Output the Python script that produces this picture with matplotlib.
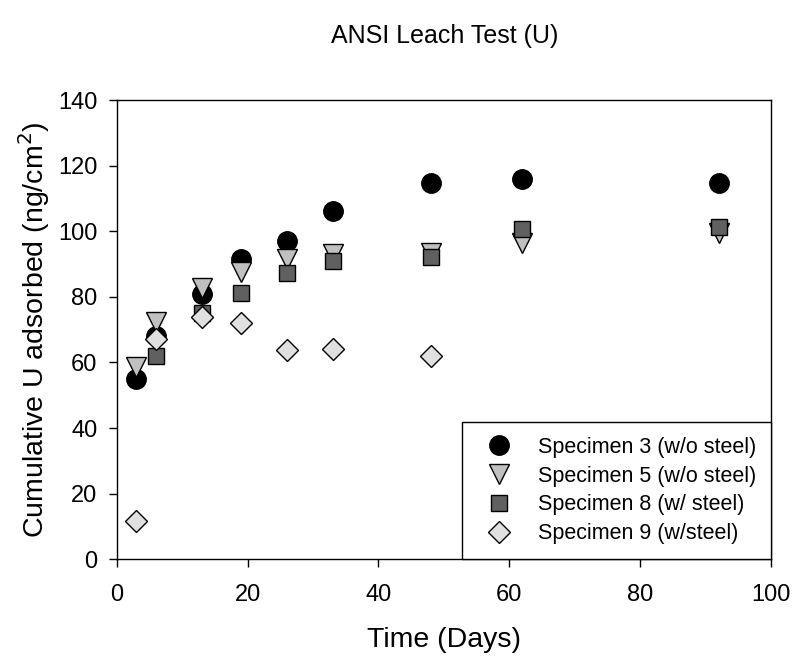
import matplotlib
matplotlib.use("Agg")
import matplotlib.pyplot as plt

plt.rcParams["font.family"] = ["Liberation Sans", "DejaVu Sans"]

# specimen 3 (w/o steel)
days_s3 = [3, 6, 13, 19, 26, 33, 48, 62, 92]
u_s3 = [55, 68, 81, 91.5, 97, 106.2, 114.8, 116, 114.8]
# specimen 5 (w/o steel)
days_s5 = [3, 6, 13, 19, 26, 33, 48, 62, 92]
u_s5 = [58.5, 72.3, 82.6, 87.5, 91.4, 93.2, 93.5, 96.5, 99.5]
# specimen 8 (w/ steel)
days_s8 = [6, 13, 19, 26, 33, 48, 62, 92]
u_s8 = [62, 75, 81.3, 87.3, 90.9, 92.2, 100.6, 101.3]
# specimen 9 (w/steel)
days_s9 = [3, 6, 13, 19, 26, 33, 48]
u_s9 = [11.7, 67, 73.9, 71.9, 63.7, 64.2, 61.9]

fig = plt.figure(figsize=(7.94, 6.58), dpi=100, facecolor="white")
ax = fig.add_axes([0.147, 0.150, 0.824, 0.698])

ax.plot(days_s3, u_s3, "o", ms=14, mfc="black", mec="black", mew=1,
        label="Specimen 3 (w/o steel)")
ax.plot(days_s5, u_s5, "v", ms=14, mfc="#c0c0c0", mec="black", mew=1,
        label="Specimen 5 (w/o steel)")
ax.plot(days_s8, u_s8, "s", ms=12, mfc="#606060", mec="black", mew=1,
        label="Specimen 8 (w/ steel)")
ax.plot(days_s9, u_s9, "D", ms=11, mfc="#e0e0e0", mec="black", mew=1,
        label="Specimen 9 (w/steel)")

ax.set_xlim(0, 100)
ax.set_ylim(0, 140)
ax.set_xticks(range(0, 101, 20))
ax.set_yticks(range(0, 141, 20))
ax.tick_params(direction="out", labelsize=17, length=6, width=1)
ax.tick_params(axis="x", pad=12)
ax.tick_params(axis="y", pad=8)
for s in ax.spines.values():
    s.set_linewidth(1)

ax.set_xlabel("Time (Days)", fontsize=20.5, labelpad=15)
ax.set_ylabel("Cumulative U adsorbed (ng/cm$^2$)", fontsize=20.5, labelpad=4)
fig.text(0.56, 0.945, "ANSI Leach Test (U)", ha="center", va="center", fontsize=18)

leg = ax.legend(loc="lower right", borderaxespad=0, fontsize=15.5, fancybox=False,
                edgecolor="black", framealpha=1, handletextpad=0.8,
                labelspacing=0.36, borderpad=0.7)
leg.get_frame().set_linewidth(1)

fig.savefig("out.png", dpi=100)
